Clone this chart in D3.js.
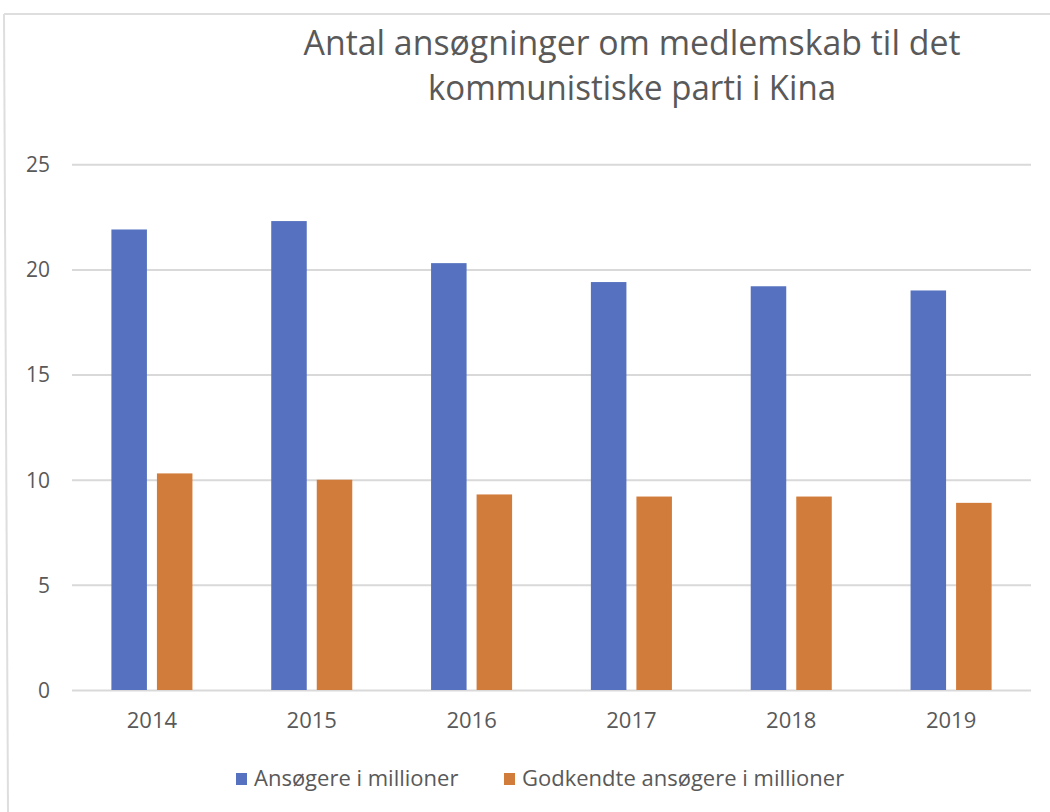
<!DOCTYPE html>
<html>
<head>
<meta charset="utf-8">
<script src="https://cdn.jsdelivr.net/npm/d3@7"></script>
<style>
  html, body { margin: 0; padding: 0; background: #ffffff; }
  svg { display: block; }
  text { font-family: "Open Sans", "Noto Sans", sans-serif; fill: #595959; }
</style>
</head>
<body>
<svg id="chart" width="1050" height="812"></svg>
<script>
// ---- data ----
const titleLines = ["Antal ansøgninger om medlemskab til det", "kommunistiske parti i Kina"];
const years = ["2014", "2015", "2016", "2017", "2018", "2019"];
const seriesNames = ["Ansøgere i millioner", "Godkendte ansøgere i millioner"];
const applicants = [21.9, 22.3, 20.3, 19.4, 19.2, 19.0];
const approved = [10.3, 10.0, 9.3, 9.2, 9.2, 8.9];
const yTicks = [0, 5, 10, 15, 20, 25];
const colors = ["#5571BF", "#D27C3B"];

const seriesValues = [applicants, approved];
const rows = years.map((y, i) => ({ year: y, values: seriesValues.map(s => s[i]) }));

const svg = d3.select("#chart");

// frame
svg.append("line").attr("x1", 4).attr("y1", 14).attr("x2", 1050).attr("y2", 14)
  .attr("stroke", "#dedede").attr("stroke-width", 2);
svg.append("line").attr("x1", 4).attr("y1", 14).attr("x2", 8).attr("y2", 812)
  .attr("stroke", "#dedede").attr("stroke-width", 2);

// title
const titleCfg = [{ y: 55, w: 657 }, { y: 100, w: 408 }];
svg.selectAll("text.title").data(titleLines).enter().append("text")
  .attr("class", "title")
  .attr("x", 632)
  .attr("y", (d, i) => titleCfg[i].y)
  .attr("text-anchor", "middle")
  .attr("font-size", 35)
  .attr("font-weight", 400)
  .attr("textLength", (d, i) => titleCfg[i].w)
  .attr("lengthAdjust", "spacingAndGlyphs")
  .text(d => d);

// scales
const x0 = d3.scaleBand().domain(years).range([72, 1031]).paddingInner(0.493).paddingOuter(0.2465);
const x1 = d3.scaleBand().domain(d3.range(seriesNames.length)).range([0, x0.bandwidth()]).paddingInner(0.22);
const y = d3.scaleLinear().domain([0, 25]).range([690, 164.3]);

// gridlines
const grid = svg.append("g")
  .attr("transform", "translate(72,0)")
  .call(d3.axisLeft(y).tickValues(yTicks).tickSize(-959).tickFormat(""));
grid.select(".domain").remove();
grid.selectAll(".tick line").attr("stroke", "#d9d9d9").attr("stroke-width", 2);

// y labels
const yAxis = svg.append("g")
  .attr("transform", "translate(50,0)")
  .call(d3.axisLeft(y).tickValues(yTicks).tickSize(0).tickPadding(0));
yAxis.select(".domain").remove();
yAxis.selectAll(".tick text").attr("font-size", 21).attr("fill", "#595959")
  .attr("font-family", "'Open Sans', sans-serif").attr("dy", "0.35em");

// bars
const groups = svg.append("g").selectAll("g").data(rows).enter().append("g")
  .attr("transform", d => `translate(${x0(d.year)},0)`);
groups.selectAll("rect").data(d => d.values.map((v, i) => ({ v, i }))).enter().append("rect")
  .attr("x", d => x1(d.i))
  .attr("width", x1.bandwidth())
  .attr("y", d => y(d.v))
  .attr("height", d => y(0) - y(d.v))
  .attr("fill", d => colors[d.i]);

// x labels
const xAxis = svg.append("g")
  .attr("transform", "translate(0,712)")
  .call(d3.axisBottom(x0).tickSize(0).tickPadding(0));
xAxis.select(".domain").remove();
xAxis.selectAll(".tick text").attr("font-size", 22).attr("fill", "#595959")
  .attr("font-family", "'Open Sans', sans-serif").attr("dy", "0.71em");

// legend
const legendX = [236, 504];
const legend = svg.append("g").selectAll("g").data(seriesNames).enter().append("g")
  .attr("transform", (d, i) => `translate(${legendX[i]},773)`);
legend.append("rect").attr("width", 11).attr("height", 12).attr("fill", (d, i) => colors[i]);
legend.append("text").attr("x", 18).attr("y", 12.5).attr("font-size", 22).text(d => d);
</script>
</body>
</html>
